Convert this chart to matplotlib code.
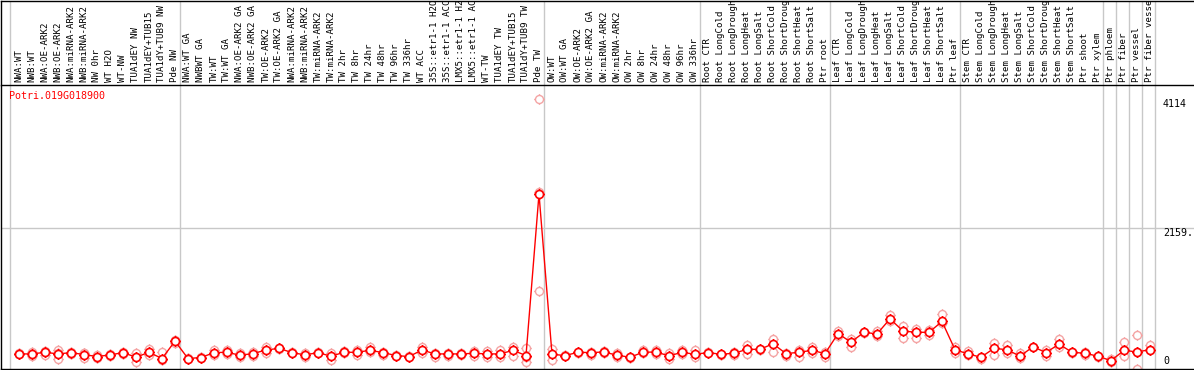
import matplotlib
matplotlib.use("Agg")
import matplotlib.pyplot as plt
from matplotlib.path import Path
import numpy as np

plt.rcParams["font.family"] = "DejaVu Sans Mono"
plt.rcParams["font.size"] = 6.6

GENE = "Potri.019G018900"

# sample groups (separated by grey lines)
nw_samples = ["NWA:WT", "NWB:WT", "NWA:OE-ARK2", "NWB:OE-ARK2", "NWA:miRNA-ARK2",
              "NWB:miRNA-ARK2", "NW 0hr", "WT H2O", "WT-NW", "TUA1dEY NW",
              "TUA1dEY+TUB15", "TUA1dY+TUB9 NW", "Pde NW"]
tw_samples = ["NWA:WT GA", "NWBWT GA", "TW:WT", "TW:WT GA", "NWA:OE-ARK2 GA",
              "NWB:OE-ARK2 GA", "TW:OE-ARK2", "TW:OE-ARK2 GA", "NWA:miRNA-ARK2",
              "NWB:miRNA-ARK2", "TW:miRNA-ARK2", "TW:miRNA-ARK2", "TW 2hr", "TW 8hr",
              "TW 24hr", "TW 48hr", "TW 96hr", "TW 336hr", "WT ACC", "35S::etr1-1 H2O",
              "35S::etr1-1 ACC", "LMX5::etr1-1 H2O", "LMX5::etr1-1 ACC", "WT-TW",
              "TUA1dEY TW", "TUA1dEY+TUB15", "TUA1dY+TUB9 TW", "Pde TW"]
ow_samples = ["OW:WT", "OW:WT GA", "OW:OE-ARK2", "OW:OE-ARK2 GA", "OW:miRNA-ARK2",
              "OW:miRNA-ARK2", "OW 2hr", "OW 8hr", "OW 24hr", "OW 48hr", "OW 96hr",
              "OW 336hr"]
root_samples = ["Root CTR", "Root LongCold", "Root LongDrought", "Root LongHeat",
                "Root LongSalt", "Root ShortCold", "Root ShortDrought", "Root ShortHeat",
                "Root ShortSalt", "Ptr root"]
leaf_samples = ["Leaf CTR", "Leaf LongCold", "Leaf LongDrought", "Leaf LongHeat",
                "Leaf LongSalt", "Leaf ShortCold", "Leaf ShortDrought", "Leaf ShortHeat",
                "Leaf ShortSalt", "Ptr leaf"]
stem_samples = ["Stem CTR", "Stem LongCold", "Stem LongDrought", "Stem LongHeat",
                "Stem LongSalt", "Stem ShortCold", "Stem ShortDrought", "Stem ShortHeat",
                "Stem ShortSalt", "Ptr shoot", "Ptr xylem"]
groups = [nw_samples, tw_samples, ow_samples, root_samples, leaf_samples, stem_samples,
          ["Ptr phloem"], ["Ptr fiber"], ["Ptr vessel"], ["Ptr fiber vessel"]]

mean_expr = [
    230, 230, 255, 230, 250, 220, 190, 215, 250, 180, 255, 160, 425,
    160, 175, 250, 255, 210, 235, 290, 315, 250, 215, 250, 195, 255, 255, 285, 250,
    205, 190, 290, 230, 230, 230, 240, 230, 230, 285, 205, 2670,
    225, 205, 255, 250, 260, 210, 180, 255, 260, 200, 255, 225,
    250, 225, 240, 300, 300, 385, 235, 255, 285, 235,
    540, 410, 560, 535, 765, 580, 560, 560, 725, 295,
    230, 180, 315, 295, 195, 340, 250, 380, 255, 240, 195,
    127, 285, 260, 295,
]

rep_expr = [
    [240, 225, 230], [255, 205, 230], [265, 215, 280], [290, 150, 250], [265, 235],
    [250, 165, 240], [215, 175], [235, 195], [265, 235], [250, 110, 185], [300, 215],
    [265, 140], [450, 400],
    [170, 150], [180, 170], [285, 215], [290, 225], [240, 180], [260, 200], [330, 250],
    [320, 310], [255, 245], [240, 180], [255, 245], [240, 138], [280, 240], [290, 214],
    [342, 265], [265, 214], [210, 200], [195, 185], [342, 240], [240, 189], [240, 200],
    [240, 220], [280, 200], [280, 190], [290, 190], [340, 200], [317, 180, 108],
    [4114, 2700, 1188],
    [300, 138], [215, 195], [265, 245], [265, 214], [280, 240], [240, 189], [190, 163],
    [290, 240], [290, 230], [240, 160], [291, 230], [291, 189],
    [255, 245], [235, 214], [265, 214], [368, 225], [310, 290], [455, 265], [240, 200],
    [291, 189], [342, 250], [265, 189],
    [585, 505], [460, 342], [570, 550], [585, 500], [830, 740], [660, 470], [610, 470],
    [600, 520], [840, 700], [342, 240],
    [280, 214], [189, 150], [400, 214], [368, 240], [240, 163], [342, 330], [291, 200],
    [455, 342], [240, 265], [265, 214], [189, 200],
    [150, 110], [405, 200], [520, 0, 260], [368, 291],
]

y_max = 4318
y_ticks = [4114, 2159, 0]
y_tick_labels = ["4114", "2159.", "0"]

samples = [s for g in groups for s in g]
assert len(samples) == len(mean_expr) == len(rep_expr)
x = np.arange(len(samples))
group_ends = np.cumsum([len(g) for g in groups]) - 1

# marker: open circle with four short stubs
stub = 1.3
ring_marker = Path.make_compound_path(
    Path.unit_circle(),
    Path([[0, 1], [0, stub]], [Path.MOVETO, Path.LINETO]),
    Path([[0, -1], [0, -stub]], [Path.MOVETO, Path.LINETO]),
    Path([[1, 0], [stub, 0]], [Path.MOVETO, Path.LINETO]),
    Path([[-1, 0], [-stub, 0]], [Path.MOVETO, Path.LINETO]),
)

W, H = 1194, 370
fig = plt.figure(figsize=(W / 100, H / 100), dpi=100)
x_lo, x_hi = -18 / 13, 1175 / 13
ax = fig.add_axes([1 / W, 1 / H, (W - 1) / W, 283 / H])
ax_lab = fig.add_axes([1 / W, 1 - 85 / H, (W - 1) / W, 84.5 / H])

grid_c = "#c8c8c8"
for a in (ax, ax_lab):
    a.set_xlim(x_lo, x_hi)
    a.set_xticks([])
    a.set_yticks([])
    a.axvline(-9 / 13, color=grid_c, lw=1, zorder=0)
    for e in group_ends:
        a.axvline(e + 5 / 13, color=grid_c, lw=1, zorder=0)
    a.spines["right"].set_visible(False)
    for s in a.spines.values():
        s.set_linewidth(1)
ax.spines["top"].set_visible(False)
ax_lab.set_ylim(0, 1)

# sample labels
for xi, name in zip(x, samples):
    ax_lab.text(xi, 0.035, name, rotation=90, ha="center", va="bottom", clip_on=True)

ax.set_ylim(0, y_max)
ax.axhline(2159, color=grid_c, lw=1, zorder=0)

# replicates
rx = [xi for xi, reps in zip(x, rep_expr) for _ in reps]
ry = [v for reps in rep_expr for v in reps]
ax.plot(rx, ry, ls="none", marker=ring_marker, ms=7.5, mfc="none", mec="#f4a4a4",
        mew=1.0, zorder=2, clip_on=False)
ax.plot(x, mean_expr, color="red", lw=1, zorder=3)
ax.plot(x, mean_expr, ls="none", marker=ring_marker, ms=7.5, mfc="white", mec="red",
        mew=1.2, zorder=4)

ax.text(8 / (W - 1), 1 - 5 / 283, GENE, color="red", fontsize=7.2, ha="left",
        va="top", transform=ax.transAxes)

ytr = ax.get_yaxis_transform()
for v, lab in zip(y_ticks, y_tick_labels):
    if v == 0:
        ax.text(1162 / (W - 1), v + 40, lab, fontsize=7.2, ha="left", va="bottom",
                transform=ytr)
    else:
        ax.text(1162 / (W - 1), v, lab, fontsize=7.2, ha="left", va="top",
                transform=ytr)

fig.savefig("out.png", dpi=100)
